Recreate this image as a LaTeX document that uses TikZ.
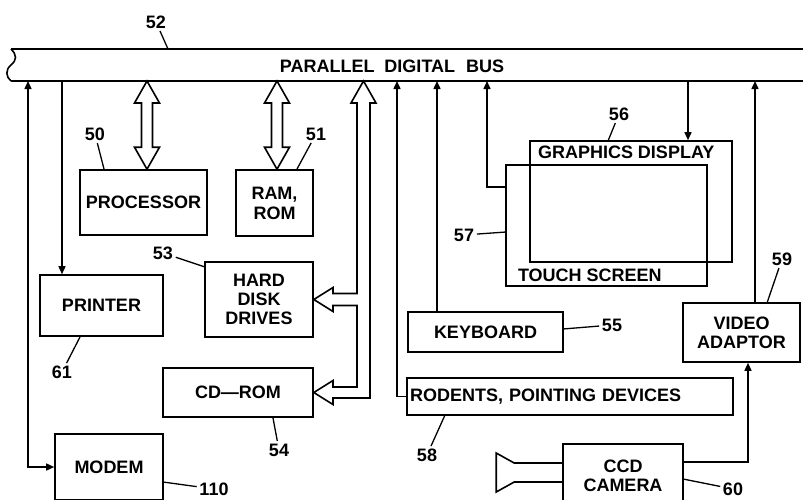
\documentclass[tikz,border=0pt]{standalone}
\usepackage{fontspec}
\setmainfont{Liberation Sans}
\usetikzlibrary{arrows.meta,calc}

\begin{document}
\begin{tikzpicture}[x=1pt, y=-1pt, line width=1.6pt,
  every node/.style={font=\fontsize{18}{19}\selectfont\bfseries, inner sep=0pt},
  box/.style={draw, rectangle, align=center},
  conn/.style={line width=1.5pt},
  arr/.style={-{Triangle[length=8pt,width=7pt]}},
  lead/.style={line width=1.3pt, shorten <=2pt},
  dblfat/.style={line join=miter, to path={let \p1=(\tikztostart), \p2=(\tikztotarget) in
    -- (\x1+12.5pt,\y1-22pt) -- (\x1+5.5pt,\y1-22pt) -- (\x1+5.5pt,\y2+22pt) -- (\x1+12.5pt,\y2+22pt)
    -- (\x1,\y2) -- (\x1-12.5pt,\y2+22pt) -- (\x1-5.5pt,\y2+22pt) -- (\x1-5.5pt,\y1-22pt)
    -- (\x1-12.5pt,\y1-22pt) -- cycle}}]

\useasboundingbox (0,0) rectangle (803,499);

% Draw the bus (broken on the left, open on the right)
\coordinate (busTL) at (11,49);
\coordinate (busBL) at (11,81);
\draw (busTL) -- (810,49);
\draw (busBL) -- (810,81);
\draw (busTL) .. controls (17,55) and (17,60) .. (11,65) .. controls (5,70) and (6,77) .. (busBL);
\node (bus) at (392,66) {PARALLEL\hspace{5pt} DIGITAL\hspace{6pt} BUS};

% taps on the bus
\foreach \n/\x in {M/28, P/62, C/147, R/277, H/363.5, D/397, K/437, T/487, G/688, V/755}
  \coordinate (tap\n) at (\x,81);

% Draw the boxes
\node[box, minimum width=127pt, minimum height=65pt] (proc) at (143.5,202.5) {PROCESSOR};
\node[box, minimum width=77pt, minimum height=66pt] (ram) at (274.5,203) {RAM,\\[1pt]ROM};
\node[box, minimum width=123pt, minimum height=61pt] (printer) at (101.5,305.5) {PRINTER};
\node[box, minimum width=108pt, minimum height=75pt] (hdd) at (259,299.5) {HARD\\DISK\\DRIVES};
\node[box, minimum width=150pt, minimum height=49pt] (cdrom) at (238,392.5) {CD---ROM};
\node[box, minimum width=108pt, minimum height=66pt] (modem) at (109,467) {MODEM};
\node[box, minimum width=155pt, minimum height=40pt] (kbd) at (485.5,332) {KEYBOARD};
\node[box, text width=320pt, align=left, inner xsep=3pt, minimum height=37pt] (rodent) at (570,396.5) {RODENTS, POINTING DEVICES};
\node[box, minimum width=201pt, minimum height=121pt] (touch) at (606.5,225.5) {};
\node[box, minimum width=202pt, minimum height=121pt] (gd) at (631,201.5) {};
\node[anchor=west] (gdtxt) at ([shift={(8pt,-12pt)}]gd.north west) {GRAPHICS DISPLAY};
\node[anchor=west] (tstxt) at ([shift={(12pt,12pt)}]touch.south west) {TOUCH SCREEN};
\node[box, minimum width=117pt, minimum height=59pt] (video) at (741.5,332.5) {VIDEO\\ADAPTOR};
\node[box, minimum width=120pt, minimum height=64pt] (camera) at (623,476) {CCD\\CAMERA};

% camera lens
\draw ([yshift=13pt]camera.west) -- ++(-48,0) -- ++(-18,-10) -- ++(0,39) -- ++(18,-10) -- ++(48,0);

% Draw connections to the bus
\draw[conn, {Triangle[length=8pt,width=7pt]}-{Triangle[length=8pt,width=7pt]}] (tapM) |- (modem.west);
\draw[conn, arr] (tapP) -- (tapP |- printer.north);
\draw (tapC) to[dblfat] (tapC |- proc.north);
\draw (tapR) to[dblfat] (tapR |- ram.north);
\draw[line join=miter] (tapH) -- (376,103) -- (370,103) -- (370,398)
  -- (333,398) -- (333,404.5) -- (cdrom.east) -- (333,380.5) -- (333,387)
  -- (357,387) -- (357,305.5) -- (333,305.5) -- (333,311.5) -- (hdd.east)
  -- (333,287.5) -- (333,293.5) -- (357,293.5) -- (357,103) -- (351,103) -- cycle;
\draw[conn, arr] (rodent.west) -| (tapD);
\draw[conn, arr] (tapK |- kbd.north) -- (tapK);
\draw[conn, arr] ([yshift=-23pt]touch.north west) -| (tapT);
\draw[conn, arr] (tapG) -- (tapG |- gd.north);
\draw[conn, arr] (tapV |- video.north) -- (tapV);
\draw[conn, arr] ([yshift=14pt]camera.east) -| ([xshift=6.5pt]video.south);

% reference numbers with leader lines
\foreach \num/\lx/\ly/\ex/\ey in {52/156/22/168/49, 50/95/134/104/169, 51/316/134/297/169,
    53/163/253/205/267, 61/62/372/80/337, 54/279/450/273/418, 110/214/489/163/482,
    56/619/114/608/141, 57/464/235/506/232, 59/782/259/767/303, 55/612/325/563/329,
    58/427/455/445/415, 60/733/489/683/479} {
  \node (n\num) at (\lx,\ly) {\num};
  \draw[lead] (n\num) -- (\ex,\ey);
}

\end{tikzpicture}
\end{document}
